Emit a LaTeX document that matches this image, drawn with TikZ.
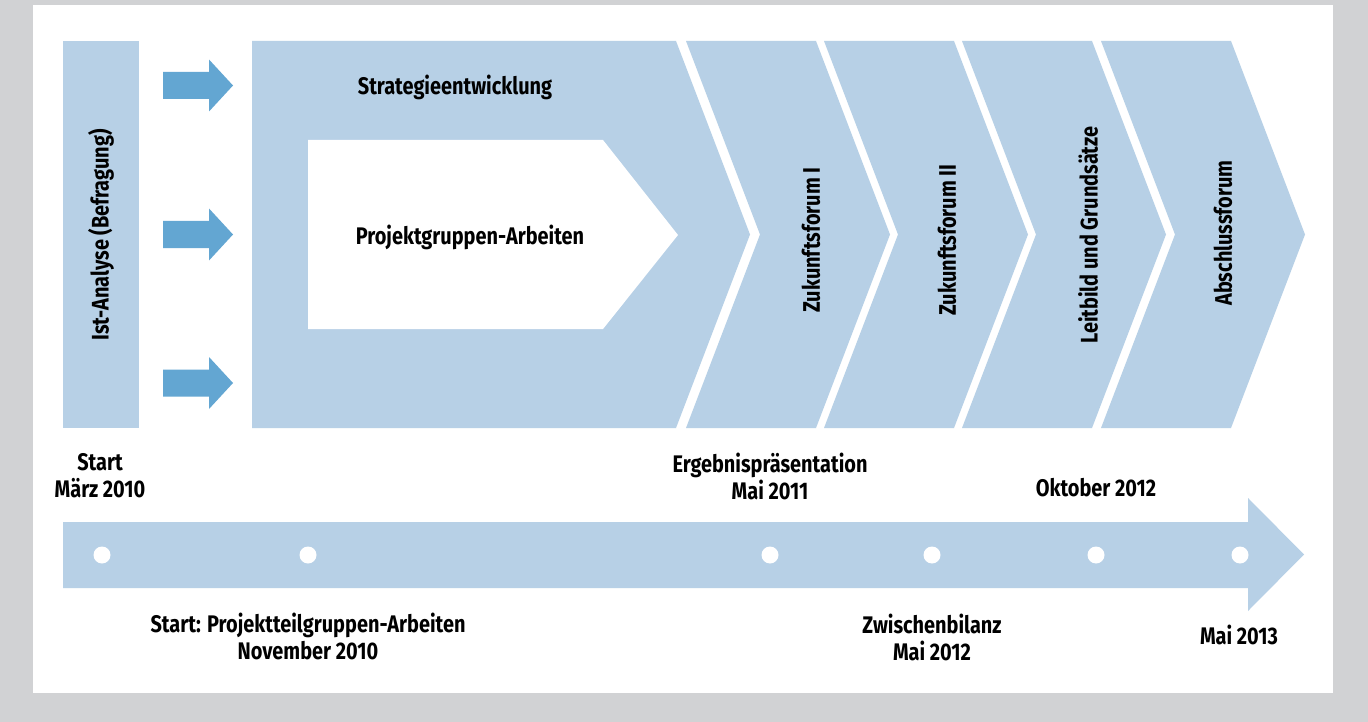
\documentclass[tikz,border=0pt]{standalone}
\usepackage{fontspec}
\setmainfont{Fira Sans}[FakeStretch=0.83]
\definecolor{gbg}{HTML}{D1D2D4}
\definecolor{lblue}{HTML}{B7D0E6}
\definecolor{dblue}{HTML}{63A6D2}
\begin{document}
\begin{tikzpicture}[x=1pt,y=-1pt,
  lbl/.style={font=\fontsize{24}{27}\selectfont\bfseries, align=center, inner sep=0pt, text=black},
  vlbl/.style={lbl, rotate=90},
  dot/.style={circle, fill=white, minimum size=17pt, inner sep=0pt}]
% background
\fill[gbg] (0,0) rectangle (1368,722);
\fill[white] (33,5) rectangle (1333,693);
% Ist-Analyse bar
\fill[lblue] (63,41) rectangle (139,428);
% small arrows
\foreach \yy in {85.5,234.5,383}{
  \fill[dblue] (163,\yy-13.5) -- (209,\yy-13.5) -- (209,\yy-26) -- (233,\yy)
     -- (209,\yy+26) -- (209,\yy+13.5) -- (163,\yy+13.5) -- cycle;
}
% big strategy shape
\fill[lblue] (252,41) -- (676,41) -- (750,234.5) -- (676,428) -- (252,428) -- cycle;
\fill[white] (308,140) -- (603,140) -- (678,235) -- (603,329) -- (308,329) -- cycle;
% chevrons
\foreach \L in {686,824,962,1101}{
  \fill[lblue] (\L,41) -- (\L+130,41) -- (\L+204,234.5) -- (\L+130,428)
     -- (\L,428) -- (\L+74,234.5) -- cycle;
}
% timeline arrow
\fill[lblue] (63,522) -- (1248,522) -- (1248,498) -- (1304,554.5) -- (1248,611)
   -- (1248,588) -- (63,588) -- cycle;
% dots
\node[dot] (d1) at (102,555) {};
\node[dot] (d2) at (308,555) {};
\node[dot] (d3) at (770,555) {};
\node[dot] (d4) at (932,555) {};
\node[dot] (d5) at (1096,555) {};
\node[dot] (d6) at (1240,555) {};
% labels in shapes
\node[vlbl] (ist) at (101,235) {Ist-Analyse (Befragung)};
\node[lbl] (strat) at (455,87) {Strategieentwicklung};
\node[lbl] (pga) at (470,237) {Projektgruppen-Arbeiten};
\node[vlbl] (zf1) at (811,240) {Zukunftsforum I};
\node[vlbl] (zf2) at (947,240) {Zukunftsforum II};
\node[vlbl] (leit) at (1088,235) {Leitbild und Grundsätze};
\node[vlbl] (absch) at (1223,233) {Abschlussforum};
% timeline labels
\node[lbl] (t1) at (100,476) {Start\\März 2010};
\node[lbl] (t2) at (308,636) {Start: Projektteilgruppen-Arbeiten\\November 2010};
\node[lbl] (t3) at (770,476) {Ergebnispräsentation\\Mai 2011};
\node[lbl] (t4) at (1096,488) {Oktober 2012};
\node[lbl] (t5) at (932,637) {Zwischenbilanz\\Mai 2012};
\node[lbl] (t6) at (1239,635) {Mai 2013};
\end{tikzpicture}
\end{document}
